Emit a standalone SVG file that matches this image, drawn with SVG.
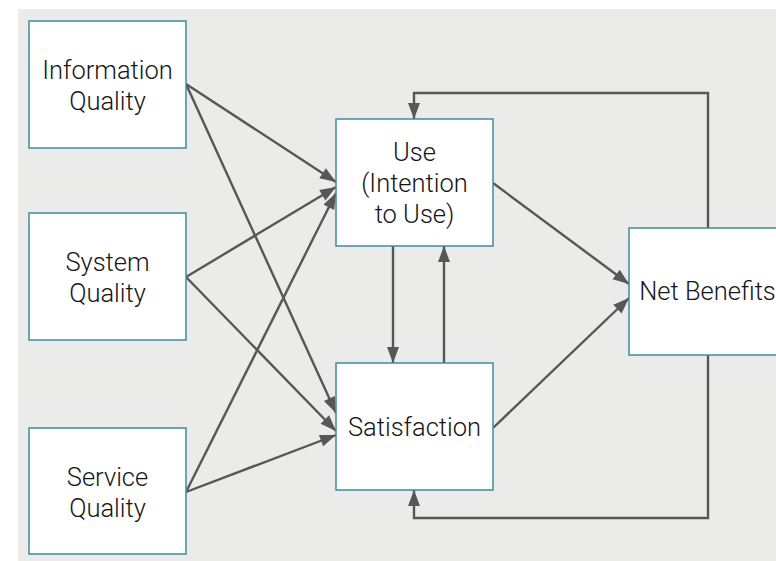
<svg xmlns="http://www.w3.org/2000/svg" width="776" height="561" viewBox="0 0 776 561">
  <style>
    .box { fill: #ffffff; stroke: #3f8ba1; stroke-width: 1.5; }
    .lbl { font-family: Roboto, "Liberation Sans", sans-serif; font-weight: 300; font-size: 25.5px; fill: #161616; text-anchor: middle; }
    .edge { fill: none; stroke: #575757; stroke-width: 2.4; marker-end: url(#arrow); }
  </style>
  <defs>
    <marker id="arrow" markerUnits="userSpaceOnUse" markerWidth="16" markerHeight="12" refX="16" refY="6" orient="auto" overflow="visible">
      <path d="M0,0 L16,6 L0,12 Z" fill="#575757"/>
    </marker>
  </defs>
  <rect x="18" y="9" width="758" height="552" fill="#ebebea"/>

  <g id="connectors">
    <path class="edge" d="M186,84 L336,182"/>
    <path class="edge" d="M186,84 L336,413"/>
    <path class="edge" d="M186,277 L336,187"/>
    <path class="edge" d="M186,277 L336,431"/>
    <path class="edge" d="M186,492 L336,193"/>
    <path class="edge" d="M186,492 L336,435"/>
    <path class="edge" d="M493,183 L629,284"/>
    <path class="edge" d="M493,428 L629,298"/>
    <path class="edge" d="M393,246 L393,363"/>
    <path class="edge" d="M444,363 L444,246"/>
    <path class="edge" d="M708,228 V93 H414 V119"/>
    <path class="edge" d="M708,355 V518 H414 V490"/>
  </g>

  <g id="information-quality">
    <rect class="box" x="29" y="21" width="157" height="127"/>
    <text class="lbl" x="107.5" y="79">Information</text>
    <text class="lbl" x="107.5" y="110">Quality</text>
  </g>
  <g id="system-quality">
    <rect class="box" x="29" y="213" width="157" height="127"/>
    <text class="lbl" x="107.5" y="271">System</text>
    <text class="lbl" x="107.5" y="302">Quality</text>
  </g>
  <g id="service-quality">
    <rect class="box" x="29" y="428" width="157" height="126"/>
    <text class="lbl" x="107.5" y="486">Service</text>
    <text class="lbl" x="107.5" y="517">Quality</text>
  </g>
  <g id="use">
    <rect class="box" x="336" y="119" width="157" height="127"/>
    <text class="lbl" x="414.5" y="161">Use</text>
    <text class="lbl" x="414.5" y="192">(Intention</text>
    <text class="lbl" x="414.5" y="223">to Use)</text>
  </g>
  <g id="satisfaction">
    <rect class="box" x="336" y="363" width="157" height="127"/>
    <text class="lbl" x="414.5" y="436">Satisfaction</text>
  </g>
  <g id="net-benefits">
    <rect class="box" x="629" y="228" width="157" height="127"/>
    <text class="lbl" x="707.5" y="300">Net Benefits</text>
  </g>
</svg>
